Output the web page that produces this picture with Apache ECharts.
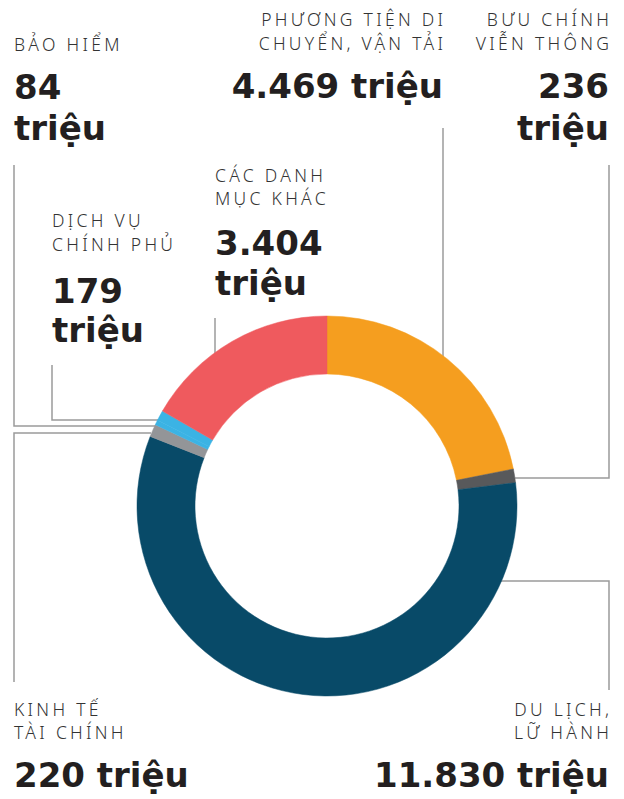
<!DOCTYPE html>
<html lang="vi">
<head>
<meta charset="UTF-8">
<title>Chi tiêu</title>
<style>
  html, body { margin: 0; padding: 0; background: #fff; }
  #chart { width: 624px; height: 799px; }
</style>
</head>
<body>
<div id="chart"></div>
<script src="https://cdn.jsdelivr.net/npm/echarts@6/dist/echarts.min.js"></script>
<script>
// data, clockwise from 12 o'clock
var categories = ['Phương tiện di chuyển, vận tải', 'Bưu chính viễn thông', 'Du lịch, lữ hành',
                  'Kinh tế tài chính', 'Bảo hiểm', 'Dịch vụ chính phủ', 'Các danh mục khác'];
var values = [4469, 236, 11830, 220, 84, 179, 3404];
var colors = ['#F59E1F', '#58595B', '#084A68', '#939598', '#3BB3E4', '#3BB3E4', '#EF5A5E'];
var labelLines = [
    ['PHƯƠNG TIỆN DI', 'CHUYỂN, VẬN TẢI'],
    ['BƯU CHÍNH', 'VIỄN THÔNG'],
    ['DU LỊCH,', 'LỮ HÀNH'],
    ['KINH TẾ', 'TÀI CHÍNH'],
    ['BẢO HIỂM'],
    ['DỊCH VỤ', 'CHÍNH PHỦ'],
    ['CÁC DANH', 'MỤC KHÁC']
];
var unit = 'triệu';

// layout: where each callout sits (x, align, label baselines, value baselines, split value?)
var layout = [
    {x: 443, align: 'right', lb: [25, 49], vb: [98], split: false,
     line: [[443, 128], [443, 357]]},
    {x: 609, align: 'right', lb: [25, 49], vb: [98, 140], split: true,
     line: [[609, 165], [609, 478], [515, 478]]},
    {x: 609, align: 'right', lb: [715, 738], vb: [787], split: false,
     line: [[609, 690], [609, 581], [497, 581]]},
    {x: 14, align: 'left', lb: [715, 738], vb: [787], split: false,
     line: [[14, 682], [14, 433], [151, 433]]},
    {x: 14, align: 'left', lb: [50], vb: [99, 140], split: true,
     line: [[14, 165], [14, 426], [155, 426]]},
    {x: 52, align: 'left', lb: [226, 250], vb: [303, 342], split: true,
     line: [[52, 365], [52, 420], [159, 420]]},
    {x: 215, align: 'left', lb: [181, 204], vb: [255, 295], split: true,
     line: [[215, 318], [215, 355]]}
];

var LABEL_SIZE = 17.5, VALUE_SIZE = 34, SPACING = 3.3;

function fmt(v) {
    return String(v).replace(/\B(?=(\d{3})+(?!\d))/g, '.');
}

var chart = echarts.init(document.getElementById('chart'), null, {renderer: 'svg'});

var graphics = [];
layout.forEach(function (l, i) {
    graphics.push({
        type: 'polyline', silent: true,
        shape: {points: l.line},
        style: {stroke: '#9B9B9B', lineWidth: 1.5, fill: null}
    });
    labelLines[i].forEach(function (txt, k) {
        graphics.push({
            type: 'text', silent: true,
            style: {
                text: txt,
                x: l.align === 'right' ? l.x + SPACING : l.x,
                y: l.lb[k] - LABEL_SIZE * 0.36,
                align: l.align, verticalAlign: 'middle',
                font: '300 ' + LABEL_SIZE + 'px "Noto Sans"',
                fill: '#333333'
            }
        });
    });
    var vals = l.split ? [fmt(values[i]), unit] : [fmt(values[i]) + ' ' + unit];
    vals.forEach(function (txt, k) {
        graphics.push({
            type: 'text', silent: true,
            style: {
                text: txt,
                x: l.x,
                y: l.vb[k] - VALUE_SIZE * 0.36,
                align: l.align, verticalAlign: 'middle',
                font: 'bold ' + VALUE_SIZE + 'px "DejaVu Sans"',
                fill: '#231F20'
            }
        });
    });
});

var option = {
    animation: false,
    backgroundColor: '#fff',
    series: [{
        type: 'pie',
        center: [327, 506],
        radius: [132, 190],
        startAngle: 90,
        clockwise: true,
        silent: true,
        label: {show: false},
        labelLine: {show: false},
        data: categories.map(function (c, i) {
            // stroke in own colour so no hairline seams show between slices
            return {name: c, value: values[i],
                    itemStyle: {color: colors[i], borderColor: colors[i], borderWidth: 0.5}};
        })
    }],
    graphic: graphics
};
chart.setOption(option);

// widen the small caps labels like the original
document.querySelectorAll('#chart text').forEach(function (t) {
    var w = parseInt(getComputedStyle(t).fontWeight, 10);
    if (w < 600) t.setAttribute('letter-spacing', SPACING + 'px');
});
</script>
</body>
</html>
